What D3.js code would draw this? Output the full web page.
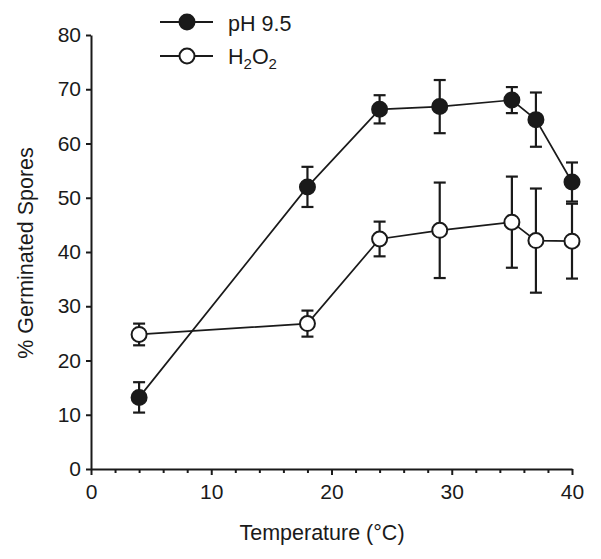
<!DOCTYPE html>
<html>
<head>
<meta charset="utf-8">
<script src="https://cdn.jsdelivr.net/npm/d3@7"></script>
<style>
  body { margin: 0; background: #fff; }
  svg { display: block; font-family: "Liberation Sans", Arial, sans-serif; }
</style>
</head>
<body>
<svg id="chart" width="601" height="559"></svg>
<script>
const temperatures = [4, 18, 24, 29, 35, 37, 40];
const ph95Mean = [13.2, 52.0, 66.3, 66.8, 68.0, 64.4, 52.9];
const ph95Err  = [2.8, 3.7, 2.6, 4.9, 2.4, 5.0, 3.6];
const h2o2Mean = [24.8, 26.8, 42.4, 44.0, 45.5, 42.1, 42.0];
const h2o2Err  = [2.0, 2.4, 3.2, 8.8, 8.4, 9.6, 6.9];
const xMajorTicks = [0, 10, 20, 30, 40];
const xMinorTicks = [2, 4, 6, 8, 12, 14, 16, 18, 22, 24, 26, 28, 32, 34, 36, 38];
const yTicks = [0, 10, 20, 30, 40, 50, 60, 70, 80];
const seriesNames = ["pH 9.5", "H2O2"];

const svg = d3.select("#chart");
const ink = "#1a1a1a";
const x = d3.scaleLinear().domain([0, 40]).range([91, 572]);
const y = d3.scaleLinear().domain([0, 80]).range([469, 35]);

// Axes
const xAxis = svg.append("g").attr("transform", `translate(0,${y(0)})`)
  .call(d3.axisBottom(x).tickValues(xMajorTicks).tickSize(6).tickPadding(9).tickSizeOuter(0));
const xMinor = svg.append("g").attr("transform", `translate(0,${y(0)})`)
  .call(d3.axisBottom(x).tickValues(xMinorTicks).tickSize(4).tickFormat("").tickSizeOuter(0));
xMinor.select(".domain").remove();
const yAxis = svg.append("g").attr("transform", `translate(${x(0)},0)`)
  .call(d3.axisLeft(y).tickValues(yTicks).tickSize(5).tickPadding(5).tickSizeOuter(0));

[xAxis, xMinor, yAxis].forEach(g => {
  g.selectAll(".domain").attr("stroke", ink).attr("stroke-width", 2);
  g.selectAll(".tick line").attr("stroke", ink).attr("stroke-width", 2);
  g.selectAll(".tick text").attr("fill", ink).attr("font-size", 21)
    .attr("font-family", "'Liberation Sans', Arial, sans-serif");
});

// Axis titles
svg.append("text").attr("x", 322).attr("y", 540).attr("text-anchor", "middle")
  .attr("font-size", 21.5).attr("fill", ink).text("Temperature (°C)");
svg.append("text").attr("transform", "translate(33,253) rotate(-90)").attr("text-anchor", "middle")
  .attr("font-size", 21.5).attr("fill", ink).text("% Germinated Spores");

const line = d3.line().x(d => x(d.t)).y(d => y(d.m));

function drawSeries(means, errs, fill) {
  const data = temperatures.map((t, i) => ({ t, m: means[i], e: errs[i] }));
  svg.append("path").datum(data).attr("d", line)
    .attr("fill", "none").attr("stroke", ink).attr("stroke-width", 1.7);
  const eb = svg.append("g").attr("stroke", ink).attr("stroke-width", 2.2);
  data.forEach(d => {
    eb.append("line").attr("x1", x(d.t)).attr("x2", x(d.t))
      .attr("y1", y(d.m + d.e)).attr("y2", y(d.m - d.e));
    [d.m + d.e, d.m - d.e].forEach(v => {
      eb.append("line").attr("x1", x(d.t) - 6).attr("x2", x(d.t) + 6)
        .attr("y1", y(v)).attr("y2", y(v));
    });
  });
  svg.append("g").selectAll("circle").data(data).join("circle")
    .attr("cx", d => x(d.t)).attr("cy", d => y(d.m)).attr("r", 7.5)
    .attr("fill", fill).attr("stroke", ink).attr("stroke-width", 2);
}
drawSeries(h2o2Mean, h2o2Err, "#fff");
drawSeries(ph95Mean, ph95Err, ink);

// Legend
const legend = [
  { name: seriesNames[0], fill: ink, yy: 22 },
  { name: seriesNames[1], fill: "#fff", yy: 56 }
];
legend.forEach(l => {
  svg.append("line").attr("x1", 160).attr("x2", 213).attr("y1", l.yy).attr("y2", l.yy)
    .attr("stroke", ink).attr("stroke-width", 1.8);
  svg.append("circle").attr("cx", 187).attr("cy", l.yy).attr("r", 7.5)
    .attr("fill", l.fill).attr("stroke", ink).attr("stroke-width", 2);
});
svg.append("text").attr("x", 228).attr("y", 31).attr("font-size", 21.5).attr("fill", ink).text(legend[0].name);
const t2 = svg.append("text").attr("x", 228).attr("y", 64).attr("font-size", 21.5).attr("fill", ink);
t2.append("tspan").text("H");
t2.append("tspan").attr("font-size", 15).attr("dy", 5).text("2");
t2.append("tspan").attr("dy", -5).text("O");
t2.append("tspan").attr("font-size", 15).attr("dy", 5).text("2");
</script>
</body>
</html>
